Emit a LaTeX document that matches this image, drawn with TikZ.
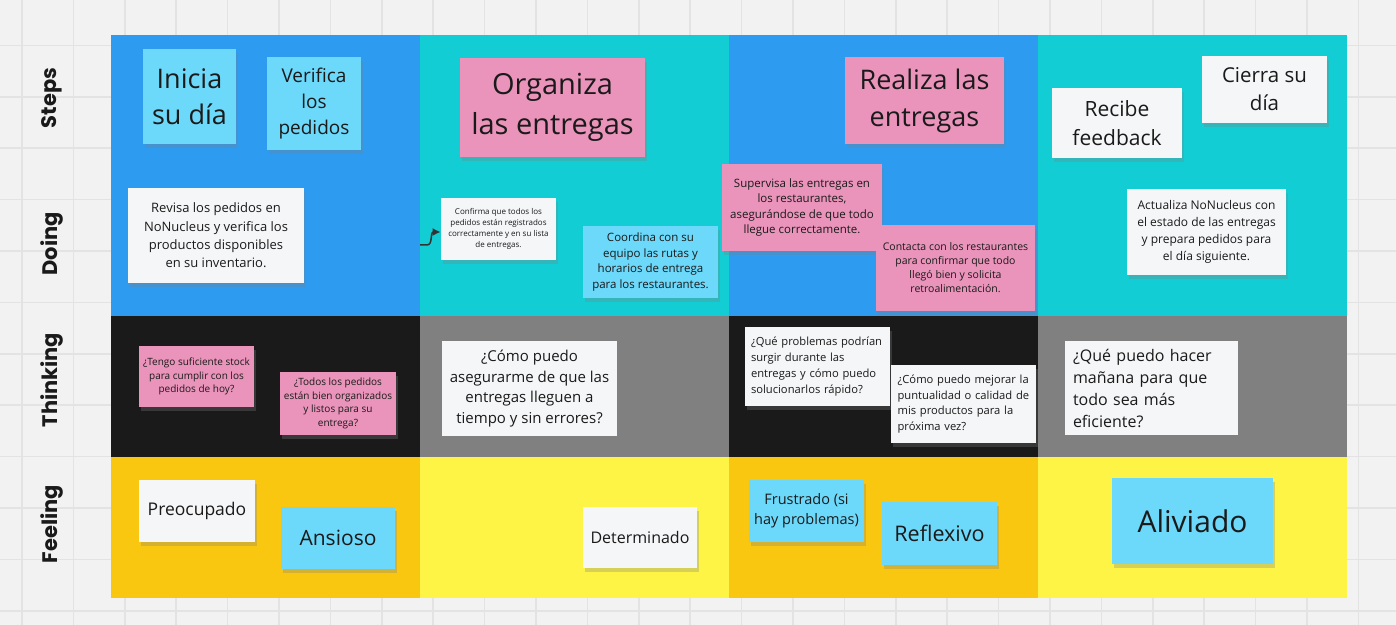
\documentclass[tikz,border=0pt]{standalone}
\usepackage{fontspec}
\setmainfont{Open Sans}
\newfontfamily\lblfont{Poppins}
\usetikzlibrary{shadows,arrows.meta}
\definecolor{bgc}{HTML}{F2F2F2}
\definecolor{gridc}{HTML}{E3E3E3}
\definecolor{cblue}{HTML}{2D9BF0}
\definecolor{cteal}{HTML}{12CDD4}
\definecolor{cblack}{HTML}{1A1A1A}
\definecolor{cgray}{HTML}{808080}
\definecolor{corange}{HTML}{FAC710}
\definecolor{cyellow}{HTML}{FEF445}
\definecolor{ncyan}{HTML}{6CD8FA}
\definecolor{npink}{HTML}{EA94BB}
\definecolor{nwhite}{HTML}{F5F6F8}
\definecolor{txt}{HTML}{1A1A1A}
\newcommand\nfs[2]{\fontsize{#1}{#2}\selectfont}
\newcommand\nline[1]{\mbox{#1}}
\tikzset{
  note/.style={inner sep=0pt, align=center, text=txt,
    drop shadow={shadow xshift=0.8pt, shadow yshift=-2pt, opacity=0.3}},
  cyannote/.style={note, fill=ncyan},
  pinknote/.style={note, fill=npink},
  whitenote/.style={note, fill=nwhite},
  leftnote/.style={whitenote, align=left, execute at begin node={\hbadness=10000\hfuzz=100pt}},
  rowlbl/.style={rotate=90, text=txt, font=\lblfont\bfseries\nfs{10.5}{12}},
  conn/.style={draw=black!80, line width=0.75pt, -{Latex[length=4pt,width=4pt]}}
}
\begin{document}
\begin{tikzpicture}[x=0.5pt,y=-0.5pt]
\useasboundingbox (0,0) rectangle (1396,625);
\fill[bgc] (0,0) rectangle (1396,625);
\foreach \i in {0,...,26} \draw[gridc, line width=0.75pt] ({22+51.4*\i},0) -- ({22+51.4*\i},625);
\foreach \j in {1,...,12} \draw[gridc, line width=0.75pt] (0,{-6+51.4*\j}) -- (1396,{-6+51.4*\j});
% board
\fill[cblue]  (110.5,35) rectangle (420,316.5);
\fill[cteal]  (420,35) rectangle (728.5,316.5);
\fill[cblue]  (728.5,35) rectangle (1037.5,316.5);
\fill[cteal]  (1037.5,35) rectangle (1346.5,316.5);
\fill[cblack] (110.5,316.5) rectangle (420,457);
\fill[cgray]  (420,316.5) rectangle (728.5,457);
\fill[cblack] (728.5,316.5) rectangle (1037.5,457);
\fill[cgray]  (1037.5,316.5) rectangle (1346.5,457);
\fill[corange] (110.5,457) rectangle (420,598);
\fill[cyellow] (420,457) rectangle (728.5,598);
\fill[corange] (728.5,457) rectangle (1037.5,598);
\fill[cyellow] (1037.5,457) rectangle (1346.5,598);
% row labels
\node[rowlbl] (lsteps) at (52,98) {Steps};
\node[rowlbl] (ldoing) at (52,244) {Doing};
\node[rowlbl] (lthinking) at (52,380) {Thinking};
\node[rowlbl] (lfeeling) at (52,524) {Feeling};
% steps / doing
\node[cyannote, minimum width=46.5pt, minimum height=47.5pt, font=\nfs{13.5}{18}] (inicia) at (189.5,96.5) {Inicia\\su día};
\node[cyannote, minimum width=47pt, minimum height=46.5pt, font=\nfs{9.5}{13}] (verifica) at (314,103.5) {Verifica\\los\\pedidos};
\node[whitenote, minimum width=88pt, minimum height=47.5pt, font=\nfs{6.5}{9.2}] (revisa) at (216,235.5) {Revisa los pedidos en\\NoNucleus y verifica los\\productos disponibles\\en su inventario.};
\node[pinknote, minimum width=92.5pt, minimum height=49.5pt, font=\nfs{14.5}{20}] (organiza) at (552.5,107.5) {Organiza\\las entregas};
\node[whitenote, minimum width=57.5pt, minimum height=31pt, font=\nfs{4}{5.5}] (confirma) at (498.5,229) {Confirma que todos los\\pedidos están registrados\\correctamente y en su lista\\de entregas.};
\node[cyannote, minimum width=67.5pt, minimum height=36pt, font=\nfs{5.75}{7.75}] (coordina) at (650.5,262) {Coordina con su\\equipo las rutas y\\horarios de entrega\\para los restaurantes.};
\coordinate (astart) at (420,245);
\draw[conn] (astart) -- (427,245) .. controls (433,245) and (430,232) .. ([yshift=-1.5pt]confirma.west);
\node[pinknote, minimum width=79.5pt, minimum height=43.5pt, font=\nfs{13.5}{18.5}] (realiza) at (924.5,100.5) {Realiza las\\entregas};
\node[pinknote, minimum width=80pt, minimum height=43.5pt, font=\nfs{5.75}{7.75}] (supervisa) at (802,207.5) {Supervisa las entregas en\\los restaurantes,\\asegurándose de que todo\\llegue correctamente.};
\node[pinknote, minimum width=79.5pt, minimum height=43pt, font=\nfs{5.25}{7}] (contacta) at (955.5,268) {Contacta con los restaurantes\\para confirmar que todo\\llegó bien y solicita\\retroalimentación.};
\node[whitenote, minimum width=65pt, minimum height=35pt, font=\nfs{10.5}{14.5}] (recibe) at (1117,123) {Recibe\\feedback};
\node[whitenote, minimum width=62.5pt, minimum height=33.5pt, font=\nfs{10.25}{14}] (cierra) at (1264.5,89.5) {Cierra su\\día};
\node[whitenote, minimum width=79.5pt, minimum height=43pt, font=\nfs{6}{8.6}] (actualiza) at (1206.5,232) {Actualiza NoNucleus con\\el estado de las entregas\\y prepara pedidos para\\el día siguiente.};
% thinking
\node[pinknote, minimum width=57.5pt, minimum height=30.5pt, font=\nfs{5}{6.9}] (tengo) at (196.5,376.5) {¿Tengo suficiente stock\\para cumplir con los\\pedidos de hoy?};
\node[pinknote, minimum width=58pt, minimum height=31.5pt, font=\nfs{5}{6.75}] (todos) at (338,403.5) {¿Todos los pedidos\\están bien organizados\\y listos para su\\entrega?};
\node[whitenote, minimum width=87.5pt, minimum height=47.5pt, font=\nfs{7.5}{10.25}] (comopuedo) at (529.5,388.5) {¿Cómo puedo\\asegurarme de que las\\entregas lleguen a\\tiempo y sin errores?};
\node[leftnote, inner xsep=3pt, text width=66.5pt, minimum height=39.5pt, font=\nfs{5.6}{7.9}] (queproblemas) at (817.5,366.5) {\nline{¿Qué problemas podrían}\\\nline{surgir durante las}\\\nline{entregas y cómo puedo}\\\nline{solucionarlos rápido?}};
\node[leftnote, inner xsep=3.3pt, text width=65.9pt, minimum height=39pt, font=\nfs{5.6}{7.9}] (comomejorar) at (963.5,404) {\nline{¿Cómo puedo mejorar la}\\\nline{puntualidad o calidad de}\\\nline{mis productos para la}\\\nline{próxima vez?}};
\node[leftnote, inner xsep=4pt, text width=78.5pt, minimum height=47pt, font=\nfs{8}{11}] (quepuedo) at (1151.5,388) {\nline{¿Qué puedo hacer}\\\nline{mañana para que}\\\nline{todo sea más}\\\nline{eficiente?}};
% feeling
\node[whitenote, minimum width=58pt, minimum height=31pt, font=\nfs{8.75}{11}] (preocupado) at (197,511) {Preocupado};
\node[cyannote, minimum width=57pt, minimum height=31pt, font=\nfs{10.5}{13}] (ansioso) at (338,538) {Ansioso};
\node[whitenote, minimum width=57pt, minimum height=30.5pt, font=\nfs{8}{10}] (determinado) at (640,537.5) {Determinado};
\node[cyannote, minimum width=57.5pt, minimum height=31pt, font=\nfs{7.25}{10}] (frustrado) at (806.5,511) {Frustrado (si\\hay problemas)};
\node[cyannote, minimum width=57.5pt, minimum height=31.5pt, font=\nfs{10.75}{13}] (reflexivo) at (939.5,533.5) {Reflexivo};
\node[cyannote, minimum width=80.5pt, minimum height=43pt, font=\nfs{15}{18}] (aliviado) at (1192.5,521) {Aliviado};
\end{tikzpicture}
\end{document}
